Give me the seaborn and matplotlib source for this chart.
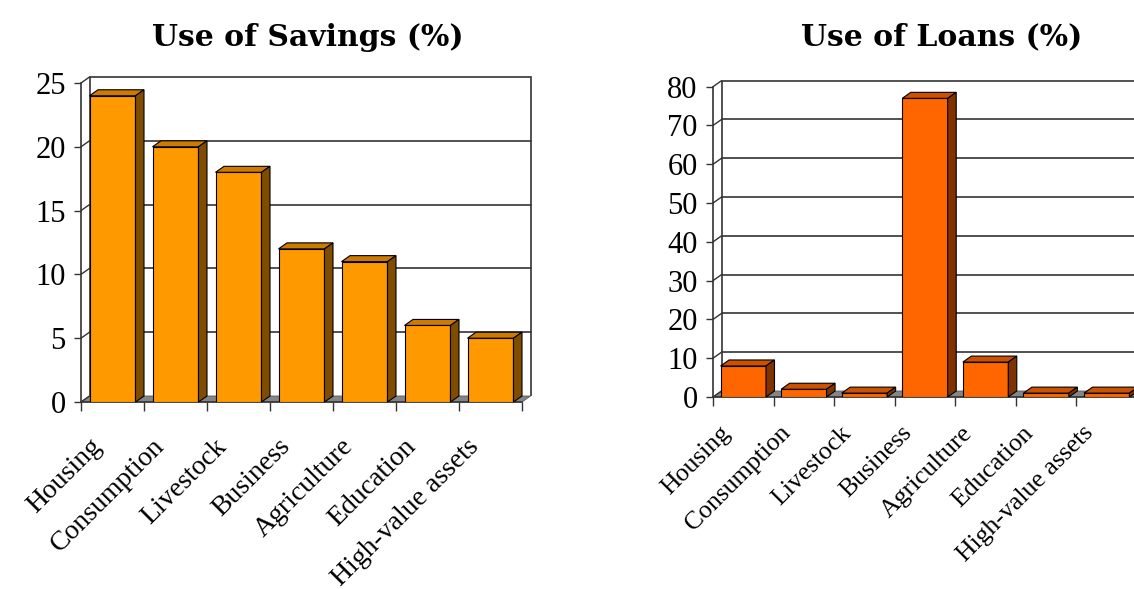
import numpy as np
import pandas as pd
import seaborn as sns
import matplotlib.pyplot as plt
from matplotlib.patches import Polygon

categories = ["Housing", "Consumption", "Livestock", "Business",
              "Agriculture", "Education", "High-value assets"]
savings = [24, 20, 18, 12, 11, 6, 5]
loans = [8, 2, 1, 77, 9, 1, 1]
savings_ticks = [0, 5, 10, 15, 20, 25]
loans_ticks = [0, 10, 20, 30, 40, 50, 60, 70, 80]

sns.set_theme(style="white")
plt.rcParams['font.family'] = ['Liberation Serif', 'DejaVu Serif']

W, H = 1134, 589
fig = plt.figure(figsize=(W / 100, H / 100), dpi=100)
ax1 = fig.add_axes([81 / W, 187 / H, 441 / W, 319 / H])
ax2 = fig.add_axes([713 / W, 192 / H, 424 / W, 310.3 / H])

LINE = '#333333'


def draw(ax, vals, yticks, front, top, side, title, title_x, title_pad, width,
         label_size, label_pad, label_shift):
    df = pd.DataFrame({'cat': categories, 'val': vals})
    sns.barplot(data=df, x='cat', y='val', color=front, width=width,
                edgecolor='black', linewidth=0.8, saturation=1, ax=ax, zorder=3)
    n = len(categories)
    x0, x1 = -0.5, n - 0.5
    ytop = yticks[-1]
    ax.set_xlim(x0, x1)
    ax.set_ylim(0, ytop)
    pos = ax.get_position()
    wpx, hpx = pos.width * W, pos.height * H
    xpp = (x1 - x0) / wpx        # data units per pixel (x)
    sx = xpp * 8.5
    sy = ytop / hpx * 6.0

    bars = list(ax.patches)
    # back wall
    ax.add_patch(Polygon([(x0 + sx, sy), (x0 + sx, ytop + sy), (x1 + sx, ytop + sy),
                          (x1 + sx, sy)], closed=False, fill=False,
                         edgecolor=LINE, lw=1.2, clip_on=False, zorder=1))
    # floor
    ax.add_patch(Polygon([(x0, 0), (x1, 0), (x1 + sx, sy), (x0 + sx, sy)],
                         facecolor='#858585', edgecolor='#5a5a5a', lw=0.6,
                         clip_on=False, zorder=1))
    for t in yticks[1:-1]:
        ax.plot([x0 + sx, x1 + sx], [t + sy, t + sy], color=LINE, lw=1.2,
                zorder=1, clip_on=False)
    for t in yticks:
        ax.plot([x0, x0 + sx], [t, t + sy], color=LINE, lw=1.0,
                zorder=1, clip_on=False)
    for p in bars:
        x, w, h = p.get_x(), p.get_width(), p.get_height()
        ax.add_patch(Polygon([(x, h), (x + w, h), (x + w + sx, h + sy), (x + sx, h + sy)],
                             facecolor=top, edgecolor='black', lw=0.8,
                             clip_on=False, zorder=3))
        ax.add_patch(Polygon([(x + w, 0), (x + w + sx, sy), (x + w + sx, h + sy), (x + w, h)],
                             facecolor=side, edgecolor='black', lw=0.8,
                             clip_on=False, zorder=3))

    ax.set_xlabel('')
    ax.set_ylabel('')
    ax.set_yticks(yticks)
    ax.set_yticklabels([str(t) for t in yticks], fontsize=22)
    ax.set_xticks(np.arange(x0, x1 + 0.01, 1))
    ax.set_xticklabels([])
    # labels sit slightly left of category centres, as in the original
    ax.set_xticks(np.arange(n) - label_shift * xpp, minor=True)
    ax.set_xticklabels(categories, minor=True, rotation=45, ha='right',
                       rotation_mode='anchor', fontsize=label_size)
    ax.tick_params(axis='x', which='major', bottom=True, length=6.5, width=1,
                   color=LINE, direction='out')
    ax.tick_params(axis='x', which='minor', bottom=True, length=0, pad=label_pad)
    ax.tick_params(axis='y', which='major', left=True, length=5, width=1,
                   color=LINE, direction='out', pad=6)
    ax.tick_params(axis='both', which='both', labelcolor='black')
    for s in ['top', 'right']:
        ax.spines[s].set_visible(False)
    for s in ['left', 'bottom']:
        ax.spines[s].set_color(LINE)
        ax.spines[s].set_linewidth(1.2)
    ax.set_facecolor('none')
    ax.set_title(title, fontsize=21.5, fontweight='bold', family='DejaVu Serif',
                 color='black', x=title_x, pad=title_pad)


draw(ax1, savings, savings_ticks, '#FF9900', '#CC7A00', '#7F4C00',
     'Use of Savings (%)', 0.515, 27, 0.73, 20, 23, 24)
draw(ax2, loans, loans_ticks, '#FF6600', '#CC5200', '#803300',
     'Use of Loans (%)', 0.54, 30, 0.75, 18.5, 18, 24)

fig.savefig('out.png', dpi=100)
